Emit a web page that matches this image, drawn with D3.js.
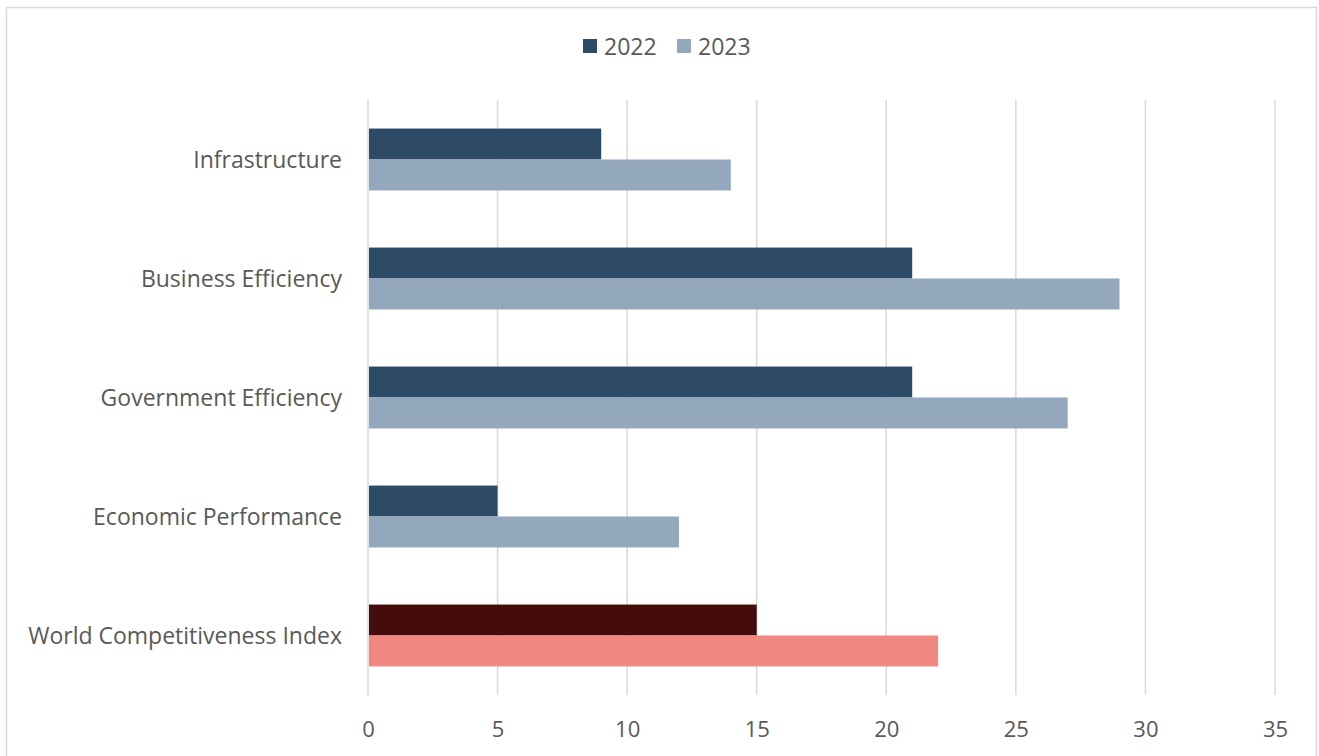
<!DOCTYPE html>
<html>
<head>
<meta charset="utf-8">
<script src="https://cdn.jsdelivr.net/npm/d3@7"></script>
<style>
  body { margin: 0; background: #fff; }
  text { font-family: "Open Sans", "Noto Sans", sans-serif; fill: #595959; }
</style>
</head>
<body>
<div id="chart"></div>
<script>
// data
var categories = ["Infrastructure", "Business Efficiency", "Government Efficiency", "Economic Performance", "World Competitiveness Index"]
var years = ["2022", "2023"]
var values2022 = [9, 21, 21, 5, 15]
var values2023 = [14, 29, 27, 12, 22]
var xTicks = [0, 5, 10, 15, 20, 25, 30, 35]

var colors = { "2022": "#2d4a66", "2023": "#94a8bd" }
var highlight = { "2022": "#440c0a", "2023": "#f08880" }

var svg = d3.select("#chart")
    .append("svg")
    .attr("width", 1319)
    .attr("height", 756)

// outer border
svg.append("rect")
    .attr("x", 6.5).attr("y", 7.5)
    .attr("width", 1310).attr("height", 760)
    .attr("fill", "none")
    .attr("stroke", "#d9d9d9")
    .attr("stroke-width", 1.5)

var x = d3.scaleLinear()
    .domain([0, 35])
    .range([368, 1275])

var y = d3.scaleBand()
    .domain(categories)
    .range([100, 695])
    .paddingInner(0.48)
    .paddingOuter(0.24)

var ySub = d3.scaleBand()
    .domain(years)
    .range([0, y.bandwidth()])

// gridlines
svg.append("g")
    .selectAll("line")
    .data(xTicks)
    .enter()
    .append("line")
    .attr("x1", function (d) { return x(d) })
    .attr("x2", function (d) { return x(d) })
    .attr("y1", 100)
    .attr("y2", 695)
    .attr("stroke", "#d9d9d9")
    .attr("stroke-width", 1.5)

// x axis labels
var xAxis = svg.append("g")
    .attr("transform", "translate(0,695)")
    .call(d3.axisBottom(x).tickValues(xTicks).tickSize(0).tickPadding(26))
xAxis.select(".domain").remove()
xAxis.selectAll("text")
    .style("font-size", "22px")
    .attr("fill", "#595959")

// y axis labels
var yAxis = svg.append("g")
    .attr("transform", "translate(342,1)")
    .call(d3.axisLeft(y).tickSize(0).tickPadding(0))
yAxis.select(".domain").remove()
yAxis.selectAll("text")
    .style("font-size", "23px")
    .attr("fill", "#595959")

// bars
var rows = categories.map(function (c, i) {
    return { cat: c, idx: i, vals: [{ year: "2022", v: values2022[i] }, { year: "2023", v: values2023[i] }] }
})

var groups = svg.selectAll(".grp")
    .data(rows)
    .enter()
    .append("g")
    .attr("class", "grp")
    .attr("transform", function (d) { return "translate(0," + y(d.cat) + ")" })

groups.selectAll("rect")
    .data(function (d) { return d.vals.map(function (e) { return { year: e.year, v: e.v, last: d.idx === categories.length - 1 } }) })
    .enter()
    .append("rect")
    .attr("x", x(0) + 1)
    .attr("y", function (d) { return ySub(d.year) })
    .attr("width", function (d) { return x(d.v) - x(0) - 1 })
    .attr("height", ySub.bandwidth())
    .attr("fill", function (d) { return d.last ? highlight[d.year] : colors[d.year] })

// legend
var legend = svg.append("g")
var legendX = [583, 677]
years.forEach(function (yr, i) {
    legend.append("rect")
        .attr("x", legendX[i]).attr("y", 39)
        .attr("width", 14).attr("height", 14)
        .attr("fill", colors[yr])
    legend.append("text")
        .attr("x", legendX[i] + 21).attr("y", 47)
        .attr("dy", "0.35em")
        .style("font-size", "23px")
        .text(yr)
})
</script>
</body>
</html>
